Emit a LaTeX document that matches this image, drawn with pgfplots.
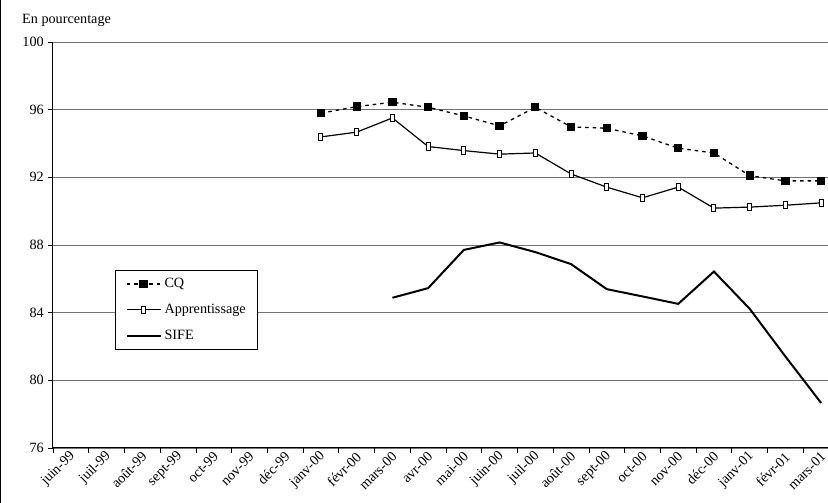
\documentclass[border=0pt]{standalone}
\usepackage{fontspec}
\setmainfont{Liberation Serif}
\usepackage{pgfplots}
\pgfplotsset{compat=1.18}

\definecolor{gridgray}{RGB}{115,115,115}

\begin{document}
\begin{tikzpicture}[font=\fontsize{14.2}{16}\selectfont]
\useasboundingbox (0,0) rectangle (828pt,503pt);
\fill[white] (0,0) rectangle (828pt,503pt);
\draw[line width=1pt] (0.5pt,0) -- (0.5pt,503pt);
\node[anchor=base west, inner sep=0pt] at (22pt,479pt) {En pourcentage};
\begin{axis}[
  at={(53pt,55pt)}, anchor=south west,
  scale only axis, width=786pt, height=406pt,
  xmin=-0.5, xmax=21.5, ymin=76, ymax=100,
  axis lines=left, axis line style={-, line width=1pt, black},
  tick align=outside, major tick length=5pt,
  tick style={black, line width=0.8pt},
  /pgf/number format/assume math mode=true,
  ytick={76,80,...,100},
  ymajorgrids, major grid style={gridgray, line width=0.9pt},
  xtick={-0.5,0.5,...,21.5}, xticklabels={},
  extra x ticks={0,1,...,21},
  extra x tick labels={juin-99,juil-99,août-99,sept-99,oct-99,nov-99,déc-99,janv-00,févr-00,mars-00,avr-00,mai-00,juin-00,juil-00,août-00,sept-00,oct-00,nov-00,déc-00,janv-01,févr-01,mars-01},
  extra x tick style={major tick length=0pt, tick label style={rotate=45, anchor=east, inner sep=1pt, yshift=-6pt, xshift=-2pt}},
  yticklabel style={inner sep=2pt, xshift=-2pt},
  legend style={at={(0.0789,0.4384)}, anchor=north west, draw=black, line width=1pt,
    font=\fontsize{14.2}{16}\selectfont, row sep=11pt, inner xsep=10pt, inner ysep=6pt,
    /tikz/every odd column/.append style={column sep=1pt}},
  legend cell align=left,
  legend image code/.code={\draw[mark repeat=2,mark phase=2,#1] plot coordinates {(0pt,0pt) (17pt,0pt) (34pt,0pt)};},
]
% CQ
\addplot[black, line width=1.3pt, dash pattern=on 3.5pt off 4pt, mark=square*, mark size=3.5pt,
  mark options={solid, fill=black}] coordinates {
  (7,95.79) (8,96.18) (9,96.44) (10,96.14) (11,95.63) (12,95.04) (13,96.14)
  (14,94.98) (15,94.90) (16,94.45) (17,93.72) (18,93.44) (19,92.10) (20,91.79) (21,91.79)
};
\addlegendentry{CQ}
% Apprentissage
\addplot[black, line width=1.2pt, mark=square*, mark size=3.6pt,
  mark options={solid, fill=white, draw=black, line width=1pt, xscale=0.55}] coordinates {
  (7,94.39) (8,94.67) (9,95.51) (10,93.82) (11,93.58) (12,93.37) (13,93.44)
  (14,92.20) (15,91.42) (16,90.79) (17,91.42) (18,90.18) (19,90.24) (20,90.35) (21,90.49)
};
\addlegendentry{Apprentissage}
% SIFE
\addplot[black, line width=2pt, no marks] coordinates {
  (9,84.88) (10,85.45) (11,87.71) (12,88.15) (13,87.58) (14,86.87) (15,85.39)
  (16,84.96) (17,84.52) (18,86.43) (19,84.23) (20,81.41) (21,78.66)
};
\addlegendentry{SIFE}
\end{axis}
\end{tikzpicture}
\end{document}
